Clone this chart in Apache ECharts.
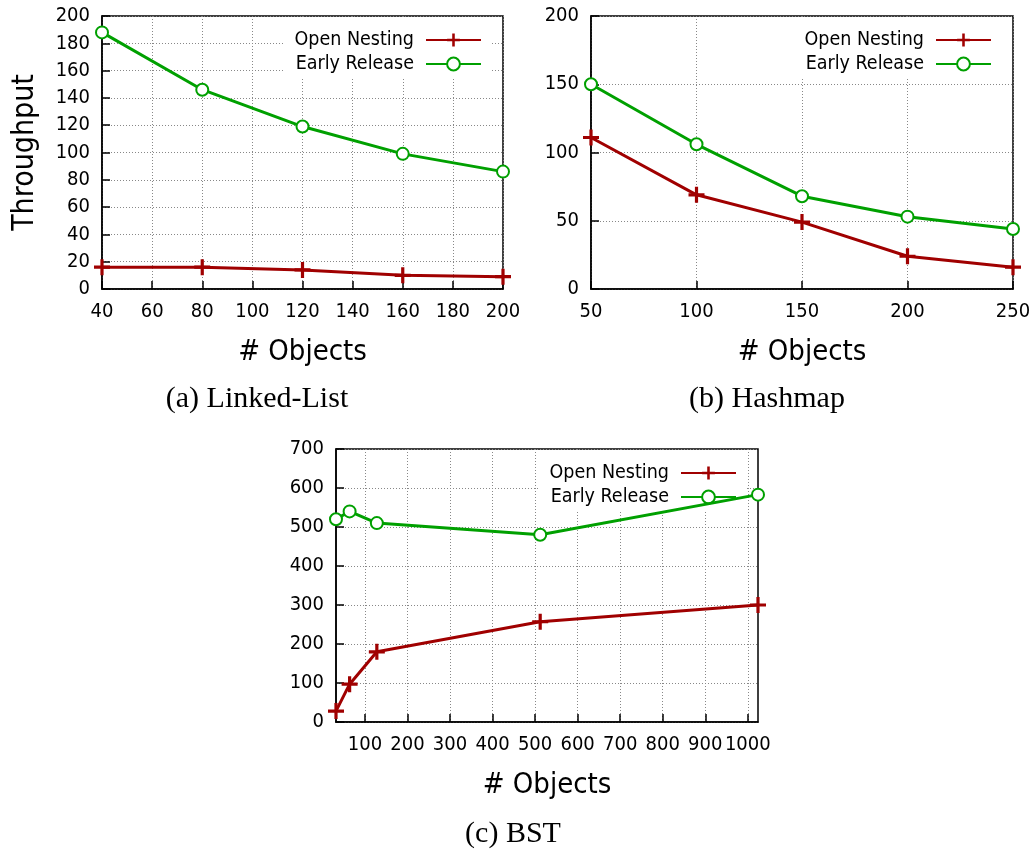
<!DOCTYPE html>
<html>
<head>
<meta charset="utf-8">
<script src="https://cdn.jsdelivr.net/npm/echarts@6/dist/echarts.min.js"></script>
<style>
  html, body { margin: 0; padding: 0; background: #fff; }
  #main { width: 1036px; height: 850px; }
</style>
</head>
<body>
<div id="main"></div>
<script>
// (a) Linked-List
var listObjects = [40, 80, 120, 160, 200];
var listOpen = [16, 16, 14, 10, 9];
var listEarly = [188, 146, 119, 99, 86];
// (b) Hashmap
var hashObjects = [50, 100, 150, 200, 250];
var hashOpen = [111, 69, 49, 24, 16];
var hashEarly = [150, 106, 68, 53, 44];
// (c) BST
var bstObjects = [32, 64, 128, 512, 1024];
var bstOpen = [28, 97, 180, 257, 300];
var bstEarly = [520, 540, 510, 480, 583];
var bstTicks = [100, 200, 300, 400, 500, 600, 700, 800, 900, 1000];

var seriesNames = ['Open Nesting', 'Early Release'];
var captions = ['(a) Linked-List', '(b) Hashmap', '(c) BST'];

var RED = '#a00000';
var GREEN = '#00a000';
var tickFont = '"DejaVu Sans Condensed", "DejaVu Sans"';
var plusPath = 'path://M4,0H6V4H10V6H6V10H4V6H0V4H4Z';

function pairs(xs, ys) {
	return xs.map(function(x, i) { return [x, ys[i]]; });
}

function plainNum(v) {
	return String(v);
}

function xAxisFor(idx, min, max, interval, custom) {
	var ax = {
		type: 'value',
		gridIndex: idx,
		min: min,
		max: max,
		name: '# Objects',
		nameLocation: 'middle',
		nameGap: 49,
		nameTextStyle: { fontFamily: tickFont, fontSize: 29, color: '#000' },
		axisLine: { lineStyle: { color: '#000', width: 1.5 } },
		axisTick: { inside: true, length: 8, lineStyle: { color: '#000', width: 1.5 } },
		axisLabel: { fontFamily: tickFont, fontSize: 20, color: '#000', margin: 13, formatter: plainNum },
		splitLine: { show: true, lineStyle: { color: '#888', width: 1, type: [1, 2] } }
	};
	if (interval) ax.interval = interval;
	if (custom) {
		ax.axisTick.customValues = custom;
		ax.axisLabel.customValues = custom;
	}
	return ax;
}

function yAxisFor(idx, max, interval, name) {
	return {
		type: 'value',
		gridIndex: idx,
		min: 0,
		max: max,
		interval: interval,
		name: name || '',
		nameLocation: 'middle',
		nameGap: 62,
		nameTextStyle: { fontFamily: tickFont, fontSize: 30, color: '#000' },
		axisLine: { show: true, lineStyle: { color: '#000', width: 1.5 } },
		axisTick: { show: true, inside: true, length: 8, lineStyle: { color: '#000', width: 1.5 } },
		axisLabel: { fontFamily: tickFont, fontSize: 20, color: '#000', margin: 12 },
		splitLine: { show: true, lineStyle: { color: '#888', width: 1, type: [1, 2] } }
	};
}

function lineSeries(name, idx, data) {
	var isOpen = name === seriesNames[0];
	return {
		name: name,
		type: 'line',
		xAxisIndex: idx,
		yAxisIndex: idx,
		data: data,
		symbol: isOpen ? plusPath : 'emptyCircle',
		symbolSize: isOpen ? 16 : 12,
		showAllSymbol: true,
		lineStyle: { color: isOpen ? RED : GREEN, width: 3 },
		itemStyle: { color: isOpen ? RED : GREEN, borderWidth: isOpen ? 0 : 2.5 },
		emphasis: { disabled: true },
		animation: false,
		z: 5
	};
}

function legendFor(right, top) {
	return {
		data: seriesNames,
		orient: 'vertical',
		align: 'right',
		right: right,
		top: top,
		itemWidth: 55,
		itemHeight: 16,
		itemGap: 4,
		padding: [13, 10, 4, 10],
		backgroundColor: '#fff',
		selectedMode: false,
		textStyle: { fontFamily: tickFont, fontSize: 19.5, color: '#000', padding: [0, 7, 0, 0] }
	};
}

function caption(text, x, y) {
	return {
		type: 'text',
		x: x,
		y: y,
		style: {
			text: text,
			font: '30px "Liberation Serif"',
			fill: '#000',
			textAlign: 'center',
			textVerticalAlign: 'middle'
		}
	};
}

var myChart = echarts.init(document.getElementById('main'));
var gridBox = { show: true, borderColor: '#000', borderWidth: 1.5, backgroundColor: 'transparent' };
var option = {
	backgroundColor: '#fff',
	animation: false,
	grid: [
		Object.assign({ left: 102, top: 16, width: 401, height: 273 }, gridBox),
		Object.assign({ left: 591, top: 16, width: 422, height: 273 }, gridBox),
		Object.assign({ left: 336, top: 449, width: 422, height: 273 }, gridBox)
	],
	xAxis: [
		xAxisFor(0, 40, 200, 20),
		xAxisFor(1, 50, 250, 50),
		xAxisFor(2, 32, 1024, null, bstTicks)
	],
	yAxis: [
		yAxisFor(0, 200, 20, 'Throughput'),
		yAxisFor(1, 200, 50),
		yAxisFor(2, 700, 100)
	],
	legend: [
		legendFor(544, 17),
		legendFor(34, 17),
		legendFor(289, 450)
	],
	graphic: [
		caption(captions[0], 257, 399),
		caption(captions[1], 767, 399),
		caption(captions[2], 513, 834)
	],
	series: [
		lineSeries(seriesNames[0], 0, pairs(listObjects, listOpen)),
		lineSeries(seriesNames[1], 0, pairs(listObjects, listEarly)),
		lineSeries(seriesNames[0], 1, pairs(hashObjects, hashOpen)),
		lineSeries(seriesNames[1], 1, pairs(hashObjects, hashEarly)),
		lineSeries(seriesNames[0], 2, pairs(bstObjects, bstOpen)),
		lineSeries(seriesNames[1], 2, pairs(bstObjects, bstEarly))
	]
};
myChart.setOption(option);
</script>
</body>
</html>
